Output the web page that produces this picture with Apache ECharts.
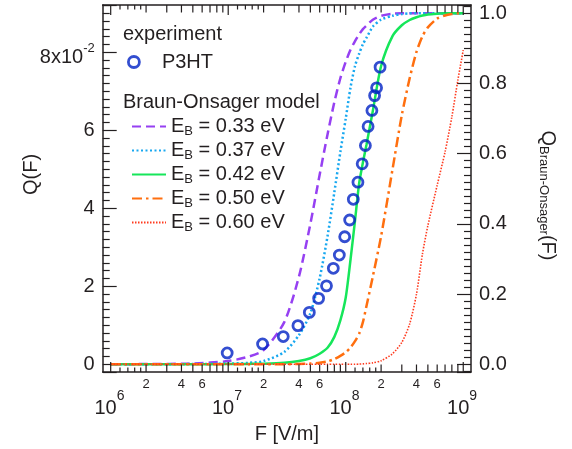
<!DOCTYPE html>
<html>
<head>
<meta charset="utf-8">
<script src="https://cdn.jsdelivr.net/npm/echarts@6/dist/echarts.min.js"></script>
<style>
  html, body { margin: 0; padding: 0; background: #fff; }
  #chart { width: 572px; height: 449px; }
</style>
</head>
<body>
<div id="chart"></div>
<script>
const FONT = '"Liberation Sans", Arial, Helvetica, sans-serif';
const INK = '#231f20';

// measured P3HT points: field F [V/m] and Q(F)
const expField = [0.98e7, 1.96e7, 2.94e7, 3.92e7, 4.9e7, 5.88e7, 6.86e7, 7.84e7, 8.82e7, 0.98e8,
  1.08e8, 1.16e8, 1.27e8, 1.38e8, 1.47e8, 1.55e8, 1.67e8, 1.76e8, 1.83e8, 1.96e8];
const expQ = [0.0029, 0.0052, 0.0071, 0.0099, 0.0133, 0.0169, 0.0201, 0.0246, 0.0280, 0.0327,
  0.0370, 0.0423, 0.0467, 0.0514, 0.0561, 0.0610, 0.0651, 0.0689, 0.0709, 0.0762];

const modelField = [1e6, 2e6, 5e6, 1e7, 1.5e7, 2e7, 3e7, 4e7, 5e7, 6e7, 7e7, 8e7, 9e7, 1e8,
  1.1e8, 1.2e8, 1.3e8, 1.4e8, 1.5e8, 1.7e8, 2e8, 2.5e8, 3e8, 3.5e8, 4e8, 4.5e8, 5e8,
  6e8, 7e8, 8e8, 9e8, 1e9];
const qEB033 = [0, 0.0005, 0.002, 0.009, 0.022, 0.04, 0.12, 0.25, 0.40, 0.54, 0.655, 0.747, 0.815, 0.862,
  0.897, 0.921, 0.94, 0.955, 0.965, 0.982, 0.993, 0.999, 1, 1, 1, 1, 1, 1, 1, 1, 1, 1];
const qEB037 = [0, 0, 0.0005, 0.002, 0.004, 0.009, 0.035, 0.083, 0.145, 0.245, 0.365, 0.49, 0.605, 0.70,
  0.79, 0.85, 0.885, 0.912, 0.93, 0.962, 0.982, 0.993, 0.998, 1, 1, 1, 1, 1, 1, 1, 1, 1];
const qEB042 = [0, 0, 0, 0.0005, 0.001, 0.0015, 0.004, 0.009, 0.017, 0.03, 0.047, 0.078, 0.125, 0.19,
  0.30, 0.41, 0.515, 0.575, 0.625, 0.722, 0.85, 0.935, 0.966, 0.981, 0.989, 0.994, 0.997,
  0.999, 1, 1, 1, 1];
const qEB050 = [0, 0, 0, 0, 0, 0, 0, 0.001, 0.002, 0.004, 0.008, 0.015, 0.024, 0.034,
  0.048, 0.066, 0.087, 0.12, 0.165, 0.25, 0.365, 0.555, 0.71, 0.815, 0.89, 0.935, 0.96,
  0.985, 0.994, 0.998, 1, 1];
const qEB060 = [0, 0, 0, 0, 0, 0, 0, 0, 0, 0, 0, 0, 0, 0,
  0, 0, 0.0005, 0.001, 0.002, 0.004, 0.01, 0.03, 0.062, 0.115, 0.2, 0.315, 0.395,
  0.51, 0.605, 0.705, 0.81, 0.895];

const modelEnergy = ['0.33', '0.37', '0.42', '0.50', '0.60'];
const modelQ = [qEB033, qEB037, qEB042, qEB050, qEB060];
const modelColor = ['#9640f2', '#18a8f0', '#16e65a', '#ff6f0f', '#ff3a1e'];
const modelDash = [[9, 5], [2, 2.5], 'solid', [10, 4, 2.5, 4], [1.5, 1.5]];
const modelWidth = [2.5, 2.5, 2.5, 2.5, 1.6];

// tick labels
const leftTicks = [0, 0.02, 0.04, 0.06, 0.08];
const leftTickText = ['0', '2', '4', '6', '{m|8x10}{s|-2}'];
const rightTicks = [0, 0.2, 0.4, 0.6, 0.8, 1.0];
const rightTickText = ['0.0', '0.2', '0.4', '0.6', '0.8', '1.0'];
const decadeExp = [6, 7, 8, 9];
const minorSteps = [1.2, 1.4, 1.6, 1.8, 2, 3, 4, 5, 6, 7, 8, 9];
const minorLabelSteps = [2, 4, 6];

// x ticks: [F, 0, level]  level 0 = decade, 1 = integer step, 2 = fine step
const tickData = [];
const tickText = [];
decadeExp.forEach(function (e) {
  const d = Math.pow(10, e);
  tickData.push([d, 0, 0]);
  tickText.push(String(e));
  if (e < 9) {
    minorSteps.forEach(function (s) {
      tickData.push([s * d, 0, Number.isInteger(s) ? 1 : 2]);
      tickText.push(minorLabelSteps.indexOf(s) >= 0 ? String(s) : '');
    });
  }
});

function pickLabel(v, ticks, texts) {
  for (let i = 0; i < ticks.length; i++) {
    if (Math.abs(v - ticks[i]) < 1e-9) return texts[i];
  }
  return '';
}

function renderTick(params, api) {
  const cs = params.coordSys;
  const x = api.coord([api.value(0), 0])[0];
  const lvl = api.value(2);
  const len = [10, 7.5, 4.5][lvl];
  const bot = cs.y + cs.height;
  const top = cs.y;
  const st = { stroke: INK, lineWidth: 1.2 };
  const kids = [
    { type: 'line', shape: { x1: x, y1: bot, x2: x, y2: bot - len }, style: st },
    { type: 'line', shape: { x1: x, y1: top, x2: x, y2: top + len }, style: st }
  ];
  const t = tickText[params.dataIndex];
  if (lvl === 0) {
    kids.push({ type: 'text', style: { text: '10', x: x + 6, y: bot + 36, align: 'right',
      verticalAlign: 'middle', fontSize: 20, fontFamily: FONT, fill: INK } });
    kids.push({ type: 'text', style: { text: t, x: x + 6, y: bot + 24.5, align: 'left',
      verticalAlign: 'middle', fontSize: 14, fontFamily: FONT, fill: INK } });
  } else if (t) {
    kids.push({ type: 'text', style: { text: t, x: x, y: bot + 12, align: 'center',
      verticalAlign: 'middle', fontSize: 13, fontFamily: FONT, fill: INK } });
  }
  return { type: 'group', children: kids };
}

const chart = echarts.init(document.getElementById('chart'));

const modelSeries = modelEnergy.map(function (eb, k) {
  return {
    name: 'EB = ' + eb + ' eV',
    type: 'line',
    xAxisIndex: 0,
    yAxisIndex: 1,
    showSymbol: false,
    symbol: 'none',
    smooth: 0.25,
    color: modelColor[k],
    lineStyle: { color: modelColor[k], width: modelWidth[k], type: modelDash[k] },
    data: modelField.map(function (f, i) { return [f, modelQ[k][i]]; }),
    z: 3
  };
});

const axisText = { fontSize: 20, fontFamily: FONT, color: INK };

chart.setOption({
  animation: false,
  backgroundColor: '#fff',
  grid: { left: 102.7, right: 101, top: 5, bottom: 75.7, containLabel: false },
  xAxis: [
    {
      type: 'log', logBase: 10, min: 8.55e5, max: 1.164e9,
      name: 'F [V/m]', nameLocation: 'middle', nameGap: 52, nameMoveOverlap: false,
      nameTextStyle: axisText,
      axisLine: { onZero: false, lineStyle: { color: INK, width: 1.5 } },
      axisTick: { show: false }, axisLabel: { show: false }, splitLine: { show: false }
    },
    {
      type: 'log', logBase: 10, min: 8.55e5, max: 1.164e9, position: 'top',
      axisLine: { onZero: false, lineStyle: { color: INK, width: 1.5 } },
      axisTick: { show: false }, axisLabel: { show: false }, splitLine: { show: false }
    }
  ],
  yAxis: [
    {
      type: 'value', position: 'left', min: -0.00199, max: 0.09214, splitNumber: 5,
      name: 'Q(F)', nameLocation: 'middle', nameGap: 61, nameMoveOverlap: false,
      nameTextStyle: Object.assign({ padding: [0, 0, 0, 28] }, axisText),
      axisLine: { onZero: false, lineStyle: { color: INK, width: 1.5 } },
      axisTick: { inside: true, length: 14, lineStyle: { color: INK, width: 1.2 } },
      minorTick: { show: true, splitNumber: 10, length: 7, lineStyle: { color: INK, width: 1.2 } },
      splitLine: { show: false },
      axisLabel: {
        margin: 8, fontSize: 20, fontFamily: FONT, color: INK,
        formatter: function (v) { return pickLabel(v, leftTicks, leftTickText); },
        rich: {
          m: { fontSize: 20, fontFamily: FONT, color: INK, lineHeight: 20, padding: [10, 0, 0, 0] },
          s: { fontSize: 13, fontFamily: FONT, color: INK, lineHeight: 13, verticalAlign: 'top' }
        }
      }
    },
    {
      type: 'value', position: 'right', min: -0.0221, max: 1.0238, splitNumber: 5,
      name: '{q|Q}{s|Braun-Onsager}{q|(F)}', nameLocation: 'middle', nameGap: 66, nameRotate: -90,
      nameMoveOverlap: false,
      nameTextStyle: {
        fontSize: 20, fontFamily: FONT, color: INK, padding: [0, 0, 0, 14],
        rich: {
          q: { fontSize: 20, fontFamily: FONT, color: INK, lineHeight: 22 },
          s: { fontSize: 13, fontFamily: FONT, color: INK, lineHeight: 13, padding: [9, 0, 0, 0] }
        }
      },
      axisLine: { onZero: false, lineStyle: { color: INK, width: 1.5 } },
      axisTick: { inside: true, length: 14, lineStyle: { color: INK, width: 1.2 } },
      minorTick: { show: true, splitNumber: 10, length: 7, lineStyle: { color: INK, width: 1.2 } },
      splitLine: { show: false },
      axisLabel: {
        margin: 8, fontSize: 20, fontFamily: FONT, color: INK,
        formatter: function (v) { return pickLabel(v, rightTicks, rightTickText); }
      }
    }
  ],
  legend: [
    {
      data: ['P3HT'], orient: 'vertical', left: 122, top: 47,
      itemWidth: 46, itemHeight: 11, selectedMode: false,
      itemStyle: { color: 'transparent', borderColor: '#0022c4', borderWidth: 2.8 },
      textStyle: { fontSize: 20, fontFamily: FONT, color: INK, lineHeight: 20 }
    },
    {
      data: modelSeries.map(function (s) { return s.name; }),
      orient: 'vertical', left: 126, top: 110, itemGap: 1,
      itemWidth: 34, itemHeight: 14, selectedMode: false,
      itemStyle: { opacity: 0 },
      formatter: function (name) {
        return '{n|E}{b|B}{n| = ' + name.slice(5) + '}';
      },
      textStyle: {
        fontSize: 20, fontFamily: FONT, color: INK,
        rich: {
          n: { fontSize: 20, fontFamily: FONT, color: INK, lineHeight: 20 },
          b: { fontSize: 13, fontFamily: FONT, color: INK, lineHeight: 13, padding: [10, 0, 0, 0] }
        }
      }
    }
  ],
  graphic: [
    { type: 'text', x: 123, y: 34, style: { text: 'experiment', fontSize: 20, fontFamily: FONT,
      fill: INK, verticalAlign: 'middle' } },
    { type: 'text', x: 123, y: 102, style: { text: 'Braun-Onsager model', fontSize: 20, fontFamily: FONT,
      fill: INK, verticalAlign: 'middle' } }
  ],
  series: modelSeries.concat([
    {
      name: 'P3HT',
      type: 'scatter',
      xAxisIndex: 0,
      yAxisIndex: 0,
      symbol: 'circle',
      symbolSize: 10,
      itemStyle: { color: 'transparent', borderColor: '#0022c4', borderWidth: 2.8 },
      data: expField.map(function (f, i) { return [f, expQ[i]]; }),
      z: 5
    },
    {
      type: 'custom',
      xAxisIndex: 0,
      yAxisIndex: 0,
      silent: true,
      clip: false,
      renderItem: renderTick,
      encode: { x: 0, y: 1 },
      data: tickData,
      z: 6
    }
  ])
});
</script>
</body>
</html>
